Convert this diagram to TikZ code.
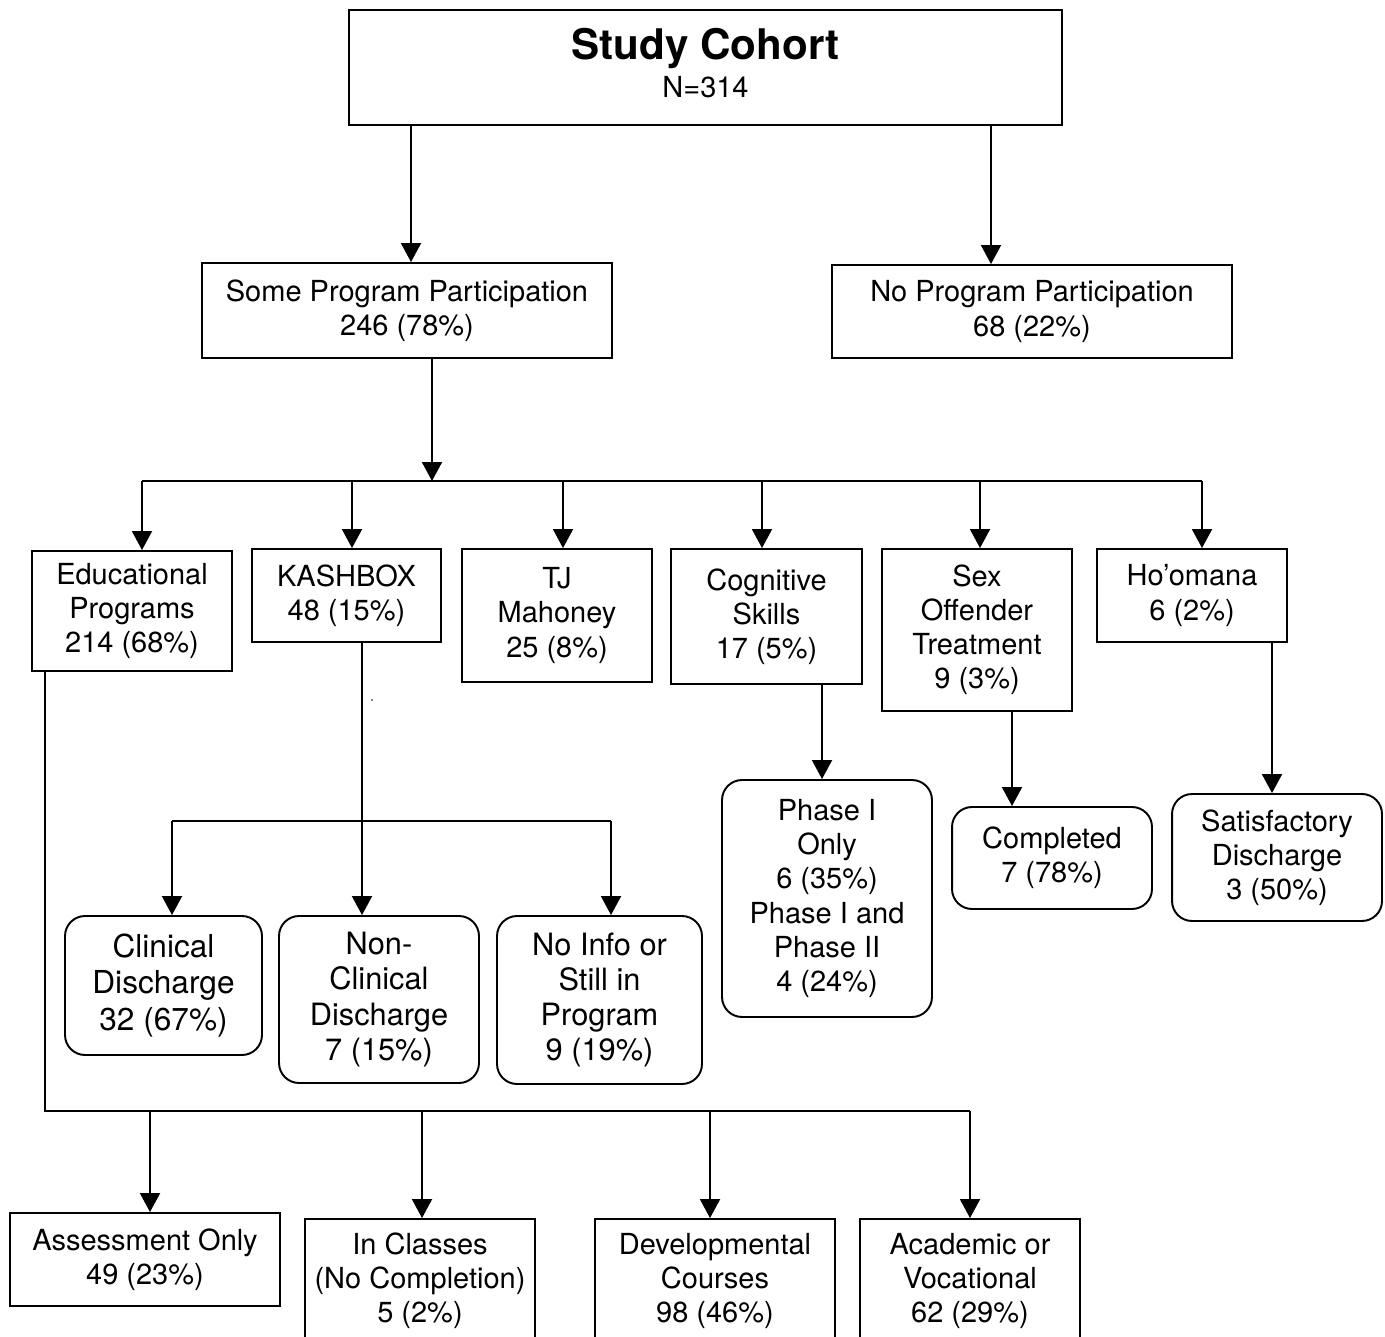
\documentclass[tikz,border=0pt]{standalone}
\usepackage{fontspec}
\setmainfont{TeX Gyre Heros}
\usetikzlibrary{arrows.meta}
\newcommand{\txtsize}{\fontsize{16.5}{19.4}\selectfont}
\newcommand{\bigtxt}{\fontsize{17.5}{20}\selectfont}
\tikzset{
	sqbox/.style={draw, line width=1.1pt, align=center, inner sep=0pt, font=\txtsize},
	rndbox/.style={sqbox, rounded corners=0.4cm},
}

\begin{document}
\begin{tikzpicture}[x=0.02cm, y=-0.02cm, >={Triangle[length=0.38cm,width=0.4cm]}, line width=1.1pt]
		\clip (0,0) rectangle (1385,1337);
		\useasboundingbox (0,0) rectangle (1385,1337);
		
		% -- Top: cohort and first split ----------------------------
		\node[sqbox, minimum width=14.26cm, minimum height=2.3cm] (cohort) at (705.5,67.5)
		{{\fontsize{24}{28}\selectfont\bfseries Study Cohort}\\[2pt] N=314\rule[-5pt]{0pt}{0pt}};
		\node[sqbox, minimum width=8.2cm, minimum height=1.9cm] (some) at (407,310.5)
		{Some Program Participation\\ 246 (78\%)};
		\node[sqbox, minimum width=8.0cm, minimum height=1.86cm] (nopart) at (1032,311.5)
		{No Program Participation\\ 68 (22\%)};
		
		\draw[->] (cohort.south -| 411,0) -- (some.north -| 411,0);
		\draw[->] (cohort.south -| 991,0) -- (nopart.north -| 991,0);
		
		% -- Programs row --------------------------------------------
		\node[sqbox, minimum width=4.0cm, minimum height=2.4cm] (edu) at (132,611)
		{Educational\\ Programs\\ 214 (68\%)};
		\node[sqbox, minimum width=3.78cm, minimum height=1.86cm] (kash) at (346.5,595.5)
		{KASHBOX\\ 48 (15\%)};
		\node[sqbox, minimum width=3.8cm, minimum height=2.66cm] (tj) at (557,615.5)
		{TJ\\ Mahoney\\ 25 (8\%)};
		\node[sqbox, minimum width=3.82cm, minimum height=2.7cm] (cog) at (766.5,616.5)
		{Cognitive\\ Skills\\ 17 (5\%)};
		\node[sqbox, minimum width=3.8cm, minimum height=3.24cm] (sex) at (977,630)
		{Sex\\ Offender\\ Treatment\\ 9 (3\%)};
		\node[sqbox, minimum width=3.8cm, minimum height=1.86cm] (hoo) at (1192,595.5)
		{Ho’omana\\ 6 (2\%)};
		
		% bus below Some Program Participation
		\coordinate (busP) at (432,481);
		\draw[->] (some.south -| busP) -- (busP);
		\draw (142,481) -- (1202,481);
		\foreach \nm/\xx in {edu/142, kash/352, tj/563, cog/762, sex/980, hoo/1202}{%
			\draw[->] (\xx,481) -- (\nm.north -| \xx,0);
		}
		
		% -- KASHBOX outcomes ----------------------------------------
		\node[rndbox, minimum width=3.94cm, minimum height=2.78cm, font=\fontsize{18}{21}\selectfont] (clin) at (163.5,985.5)
		{Clinical\\ Discharge\\ 32 (67\%)};
		\node[rndbox, minimum width=4.0cm, minimum height=3.34cm, font=\bigtxt] (nonclin) at (379,999.5)
		{Non-\\ Clinical\\ Discharge\\ 7 (15\%)};
		\node[rndbox, minimum width=4.1cm, minimum height=3.36cm, font=\bigtxt] (noinfo) at (599.5,1000)
		{No Info or\\ Still in\\ Program\\ 9 (19\%)};
		
		\draw[->] (kash.south -| 362,0) -- (nonclin.north -| 362,0);
		\draw (172,821) -- (611,821);
		\draw[->] (172,821) -- (clin.north -| 172,0);
		\draw[->] (611,821) -- (noinfo.north -| 611,0);
		\fill (372,700) circle (0.5pt);
		
		% -- Cognitive, Sex Offender, Ho'omana outcomes --------------
		\node[rndbox, minimum width=4.2cm, minimum height=4.74cm] (phase) at (827,898.5)
		{Phase I\\ Only\\ 6 (35\%)\\ Phase I and\\ Phase II\\ 4 (24\%)};
		\node[rndbox, minimum width=4.0cm, minimum height=2.04cm] (compl) at (1052,858)
		{Completed\\ 7 (78\%)};
		\node[rndbox, minimum width=4.2cm, minimum height=2.54cm] (satis) at (1277,857.5)
		{Satisfactory\\ Discharge\\ 3 (50\%)};
		
		\draw[->] (cog.south -| 822,0) -- (phase.north -| 822,0);
		\draw[->] (sex.south -| 1012,0) -- (compl.north -| 1012,0);
		\draw[->] (hoo.south -| 1272,0) -- (satis.north -| 1272,0);
		
		% -- Educational outcomes (bottom row) -----------------------
		\node[sqbox, minimum width=5.4cm, minimum height=1.86cm] (assess) at (145,1259.5)
		{Assessment Only\\ 49 (23\%)};
		\node[sqbox, minimum width=4.6cm, minimum height=2.48cm] (inclass) at (420,1281)
		{In Classes\\ (No Completion)\\ 5 (2\%)};
		\node[sqbox, minimum width=4.8cm, minimum height=2.48cm] (devel) at (715,1281)
		{Developmental\\ Courses\\ 98 (46\%)};
		\node[sqbox, minimum width=4.4cm, minimum height=2.48cm] (acad) at (970,1281)
		{Academic or\\ Vocational\\ 62 (29\%)};
		
		\draw (edu.south -| 45,0) -- (45,1111) -- (970,1111);
		\foreach \nm/\xx in {assess/150, inclass/422, devel/710, acad/970}{%
			\draw[->] (\xx,1111) -- (\nm.north -| \xx,0);
		}
		
	\end{tikzpicture}
\end{document}
